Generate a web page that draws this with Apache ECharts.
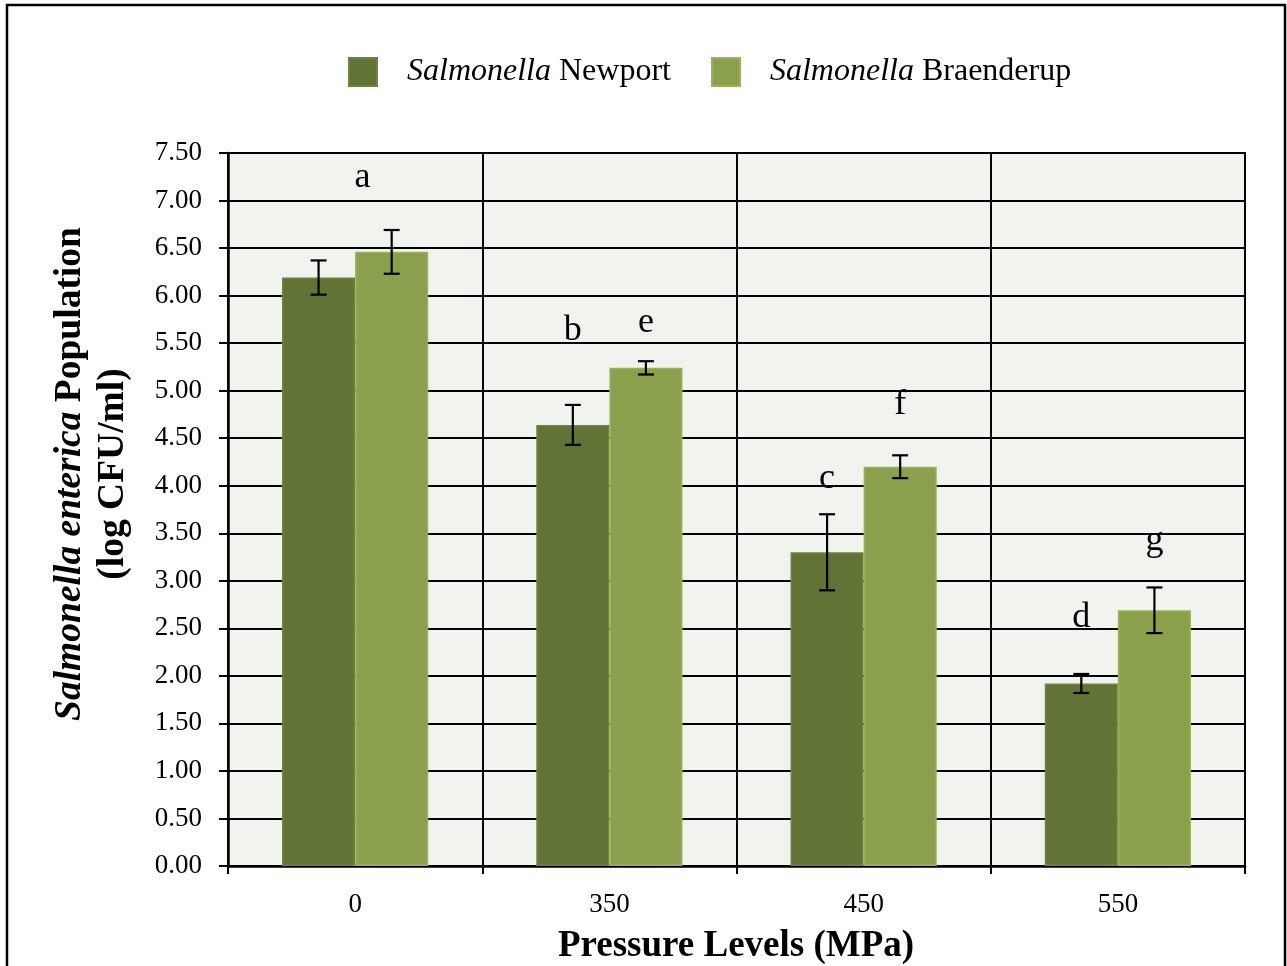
<!DOCTYPE html>
<html>
<head>
<meta charset="utf-8">
<script src="https://cdn.jsdelivr.net/npm/echarts@6/dist/echarts.min.js"></script>
<style>
html,body{margin:0;padding:0;background:#fff;}
#chart{width:1287px;height:966px;}
</style>
</head>
<body>
<div id="chart"></div>
<script>
// ---- data ----
const categories = ['0', '350', '450', '550'];
const newportMeans = [6.19, 4.64, 3.30, 1.92];
const newportErr = [0.18, 0.21, 0.40, 0.10];
const braenderupMeans = [6.46, 5.24, 4.20, 2.69];
const braenderupErr = [0.23, 0.07, 0.12, 0.24];
// significance letters: category index, value level, bar slot (-0.5 Newport, 0.5 Braenderup)
const sigLetters = ['a', 'b', 'c', 'd', 'e', 'f', 'g'];
const sigCats = [0, 1, 2, 3, 1, 2, 3];
const sigLevels = [7.24, 5.63, 4.08, 2.61, 5.72, 4.85, 3.42];
const sigSlot = [0.1, -0.5, -0.5, -0.5, 0.5, 0.5, 0.5];
const yTicks = { min: 0, max: 7.5, interval: 0.5 };

const CAT_GAP = 0.425;
const SERIF = '"Liberation Serif", "Times New Roman", serif';
const TICKFONT = '"Liberation Serif", serif';

const errData = [];
newportMeans.forEach((v, i) => errData.push([i, v, newportErr[i], -0.5]));
braenderupMeans.forEach((v, i) => errData.push([i, v, braenderupErr[i], 0.5]));
const letterData = sigLetters.map((l, i) => [sigCats[i], sigLevels[i], sigSlot[i], l]);

const chart = echarts.init(document.getElementById('chart'), null, { renderer: 'canvas' });

function barW(api) {
  const band = api.size([1, 0])[0];
  return band * (1 - CAT_GAP) / 2;
}

const option = {
  animation: false,
  backgroundColor: '#ffffff',
  grid: {
    left: 228, right: 42, top: 153, bottom: 100,
    show: true, backgroundColor: '#f1f4ee', borderColor: '#000', borderWidth: 2
  },
  legend: {
    left: 348, top: 56, padding: 0,
    itemWidth: 28, itemHeight: 28, itemGap: 40,
    icon: 'rect',
    data: ['Salmonella Newport', 'Salmonella Braenderup'],
    formatter: function (name) {
      return '{i|Salmonella }{r|' + name.replace('Salmonella ', '') + '}';
    },
    textStyle: {
      padding: [0, 0, 0, 25],
      rich: {
        i: { fontFamily: SERIF, fontStyle: 'italic', fontSize: 32, color: '#000' },
        r: { fontFamily: SERIF, fontSize: 32, color: '#000' }
      }
    }
  },
  xAxis: {
    type: 'category',
    data: categories,
    boundaryGap: true,
    axisLine: { show: true, lineStyle: { color: '#000', width: 2.5 } },
    axisTick: { show: true, length: 8, lineStyle: { color: '#000', width: 2 } },
    axisLabel: { margin: 25, fontFamily: TICKFONT, fontSize: 27, color: '#000' },
    splitLine: { show: true, lineStyle: { color: '#000', width: 2 } }
  },
  yAxis: {
    type: 'value',
    min: yTicks.min, max: yTicks.max, interval: yTicks.interval,
    axisLine: { show: true, lineStyle: { color: '#000', width: 2.5 } },
    axisTick: { show: true, length: 9, lineStyle: { color: '#000', width: 2 } },
    axisLabel: {
      margin: 26, fontFamily: TICKFONT, fontSize: 27, color: '#000',
      padding: [5, 0, 0, 0],
      formatter: v => v.toFixed(2)
    },
    splitLine: { show: true, lineStyle: { color: '#000', width: 2 } }
  },
  series: [
    {
      name: 'Salmonella Newport',
      type: 'bar',
      data: newportMeans,
      barGap: '0%',
      barCategoryGap: (CAT_GAP * 100) + '%',
      itemStyle: { color: '#617436', borderColor: '#6e8244', borderWidth: 1.5 },
      z: 2
    },
    {
      name: 'Salmonella Braenderup',
      type: 'bar',
      data: braenderupMeans,
      barGap: '0%',
      barCategoryGap: (CAT_GAP * 100) + '%',
      itemStyle: { color: '#8ba04c', borderColor: '#9ab05c', borderWidth: 1.5 },
      z: 2
    },
    {
      type: 'custom',
      name: 'errors',
      data: errData,
      z: 5,
      renderItem: function (params, api) {
        const cat = api.value(0), mean = api.value(1), err = api.value(2), slot = api.value(3);
        const bw = barW(api);
        const cx = api.coord([cat, mean])[0] + slot * bw;
        const yt = api.coord([cat, mean + err])[1];
        const yb = api.coord([cat, mean - err])[1];
        const cap = 8;
        const st = { stroke: '#000', lineWidth: 2.2 };
        return {
          type: 'group',
          children: [
            { type: 'line', shape: { x1: cx, y1: yt, x2: cx, y2: yb }, style: st },
            { type: 'line', shape: { x1: cx - cap, y1: yt, x2: cx + cap, y2: yt }, style: st },
            { type: 'line', shape: { x1: cx - cap, y1: yb, x2: cx + cap, y2: yb }, style: st }
          ]
        };
      }
    },
    {
      type: 'custom',
      name: 'letters',
      data: letterData,
      z: 6,
      renderItem: function (params, api) {
        const cat = api.value(0), lvl = api.value(1), slot = api.value(2);
        const bw = barW(api);
        const p = api.coord([cat, lvl]);
        return {
          type: 'text',
          x: p[0] + slot * bw,
          y: p[1],
          style: {
            text: letterData[params.dataIndex][3],
            fontFamily: SERIF, fontSize: 36, fill: '#000',
            align: 'center', verticalAlign: 'middle'
          }
        };
      }
    }
  ],
  graphic: [
    {
      type: 'rect',
      shape: { x: 7, y: 5, width: 1278, height: 1000 },
      style: { fill: 'none', stroke: '#000', lineWidth: 2.5 },
      silent: true
    },
    {
      type: 'text',
      x: 70, y: 474,
      rotation: Math.PI / 2,
      style: {
        text: '{i|Salmonella enterica }{b|Population}',
        align: 'center', verticalAlign: 'middle',
        rich: {
          i: { fontFamily: SERIF, fontStyle: 'italic', fontWeight: 'bold', fontSize: 37.5, fill: '#000' },
          b: { fontFamily: SERIF, fontWeight: 'bold', fontSize: 37.5, fill: '#000' }
        }
      }
    },
    {
      type: 'text',
      x: 113, y: 474,
      rotation: Math.PI / 2,
      style: {
        text: '(log CFU/ml)',
        align: 'center', verticalAlign: 'middle',
        fontFamily: SERIF, fontWeight: 'bold', fontSize: 37.5, fill: '#000'
      }
    },
    {
      type: 'text',
      x: 736, y: 946,
      style: {
        text: 'Pressure Levels (MPa)',
        align: 'center', verticalAlign: 'middle',
        fontFamily: SERIF, fontWeight: 'bold', fontSize: 37, fill: '#000'
      }
    }
  ]
};
chart.setOption(option);
</script>
</body>
</html>
